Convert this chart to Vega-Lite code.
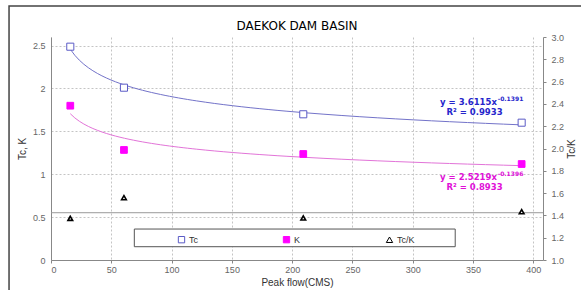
{
  "$schema": "https://vega.github.io/schema/vega-lite/v6.json",
  "width": 492,
  "height": 223,
  "autosize": {"type": "none"},
  "padding": {"left": 51, "top": 37, "right": 38, "bottom": 30},
  "background": "white",
  "title": {"text": "DAEKOK DAM BASIN", "frame": "group", "anchor": "middle", "offset": -28, "font": "DejaVu Sans", "fontSize": 12, "fontWeight": "normal", "color": "#000000"},
  "config": {
    "view": {"stroke": null},
    "axis": {
      "labelFont": "Liberation Sans", "labelFontSize": 9, "labelColor": "#666666",
      "titleFont": "Liberation Sans", "titleFontSize": 10, "titleFontWeight": "normal", "titleColor": "#333333",
      "domainColor": "#888888", "tickColor": "#888888",
      "gridColor": "#c4c4c4", "gridDash": [2, 2], "gridWidth": 1
    },
    "legend": {"orient": "none", "legendX": 126, "legendY": 198, "direction": "horizontal", "columns": 3, "columnPadding": 83, "padding": 0,
               "labelFont": "Liberation Sans", "labelFontSize": 9, "labelColor": "#333333", "labelOffset": 3, "symbolSize": 40, "symbolStrokeWidth": 1}
  },
  "datasets": {
    "obs": [
      {"flow": 16.0, "series": "Tc", "value": 2.487},
      {"flow": 60.5, "series": "Tc", "value": 2.009},
      {"flow": 209.2, "series": "Tc", "value": 1.699},
      {"flow": 390.3, "series": "Tc", "value": 1.601},
      {"flow": 16.0, "series": "K", "value": 1.799},
      {"flow": 60.5, "series": "K", "value": 1.283},
      {"flow": 209.2, "series": "K", "value": 1.236},
      {"flow": 390.3, "series": "K", "value": 1.119},
      {"flow": 16.0, "series": "Tc/K", "value": 1.374},
      {"flow": 60.5, "series": "Tc/K", "value": 1.559},
      {"flow": 209.2, "series": "Tc/K", "value": 1.377},
      {"flow": 390.3, "series": "Tc/K", "value": 1.433}
    ]
  },
  "data": {"name": "obs"},
  "layer": [
    {
      "encoding": {
        "x": {"field": "flow", "type": "quantitative", "scale": {"domain": [0, 408], "nice": false, "zero": false},
              "axis": {"title": "Peak flow(CMS)", "values": [0, 50, 100, 150, 200, 250, 300, 350, 400], "grid": true, "ticks": true, "tickSize": 3, "labelPadding": 2, "titlePadding": 3}},
        "y": {"field": "value", "type": "quantitative", "scale": {"domain": [0, 2.6], "nice": false, "zero": false},
              "axis": {"title": "Tc, K", "orient": "left", "values": [0, 0.5, 1, 1.5, 2, 2.5], "format": "~g", "grid": true, "ticks": false, "tickSize": 0, "labelPadding": 6, "titlePadding": 5}}
      },
      "layer": [
        {
          "transform": [{"aggregate": [{"op": "min", "field": "flow", "as": "flow"}, {"op": "min", "field": "value", "as": "value"}]}],
          "mark": {"type": "rect", "fill": null, "stroke": "#444444", "strokeWidth": 1.5, "clip": false},
          "encoding": {"x": {"datum": -34.8}, "x2": {"datum": 480}, "y": {"datum": 2.961}, "y2": {"datum": -0.6}}
        },
        {
          "transform": [{"aggregate": [{"op": "min", "field": "flow", "as": "flow"}, {"op": "min", "field": "value", "as": "value"}]}],
          "mark": {"type": "rect", "fill": "white", "stroke": "#555555", "strokeWidth": 1},
          "encoding": {"x": {"datum": 69.1}, "x2": {"datum": 335.2}, "y": {"datum": 0.361}, "y2": {"datum": 0.155}}
        },
        {
          "transform": [{"filter": "datum.series === 'Tc'"}, {"regression": "value", "on": "flow", "method": "pow", "extent": [16.0, 390.3]}],
          "mark": {"type": "line", "stroke": "#7373c9", "strokeWidth": 1}
        },
        {
          "transform": [{"filter": "datum.series === 'K'"}, {"regression": "value", "on": "flow", "method": "pow", "extent": [16.0, 390.3]}],
          "mark": {"type": "line", "stroke": "#e274d8", "strokeWidth": 1}
        },
        {
          "transform": [{"filter": "datum.series === 'Tc'"}],
          "mark": {"type": "point", "size": 50, "strokeWidth": 1, "opacity": 1},
          "encoding": {
            "shape": {"field": "series", "type": "nominal", "title": null, "scale": {"domain": ["Tc", "K", "Tc/K"], "range": ["square", "square", "triangle-up"]}},
            "stroke": {"field": "series", "type": "nominal", "title": null, "scale": {"domain": ["Tc", "K", "Tc/K"], "range": ["#5b5bc6", "#ff00ff", "#000000"]}},
            "fill": {"field": "series", "type": "nominal", "title": null, "scale": {"domain": ["Tc", "K", "Tc/K"], "range": ["#ffffff", "#ff00ff", "#ffffff"]}}
          }
        },
        {
          "transform": [{"filter": "datum.series === 'K'"}],
          "mark": {"type": "point", "size": 45, "strokeWidth": 1, "opacity": 1},
          "encoding": {
            "shape": {"field": "series", "type": "nominal", "title": null, "scale": {"domain": ["Tc", "K", "Tc/K"], "range": ["square", "square", "triangle-up"]}},
            "stroke": {"field": "series", "type": "nominal", "title": null, "scale": {"domain": ["Tc", "K", "Tc/K"], "range": ["#5b5bc6", "#ff00ff", "#000000"]}},
            "fill": {"field": "series", "type": "nominal", "title": null, "scale": {"domain": ["Tc", "K", "Tc/K"], "range": ["#ffffff", "#ff00ff", "#ffffff"]}}
          }
        },
        {
          "transform": [{"aggregate": [{"op": "min", "field": "flow", "as": "flow"}, {"op": "min", "field": "value", "as": "value"}]}],
          "mark": {"type": "text", "align": "right", "baseline": "middle", "font": "DejaVu Sans", "fontSize": 8.5, "fontWeight": "bold", "color": "#2626cc"},
          "encoding": {"x": {"datum": 369.8}, "y": {"datum": 1.842}, "text": {"value": "y = 3.6115x"}}
        },
        {
          "transform": [{"aggregate": [{"op": "min", "field": "flow", "as": "flow"}, {"op": "min", "field": "value", "as": "value"}]}],
          "mark": {"type": "text", "align": "left", "baseline": "middle", "font": "DejaVu Sans", "fontSize": 6, "fontWeight": "bold", "color": "#2626cc"},
          "encoding": {"x": {"datum": 370.4}, "y": {"datum": 1.877}, "text": {"value": "-0.1391"}}
        },
        {
          "transform": [{"aggregate": [{"op": "min", "field": "flow", "as": "flow"}, {"op": "min", "field": "value", "as": "value"}]}],
          "mark": {"type": "text", "align": "center", "baseline": "middle", "font": "DejaVu Sans", "fontSize": 8.5, "fontWeight": "bold", "color": "#2626cc"},
          "encoding": {"x": {"datum": 351.2}, "y": {"datum": 1.726}, "text": {"value": "R² = 0.9933"}}
        },
        {
          "transform": [{"aggregate": [{"op": "min", "field": "flow", "as": "flow"}, {"op": "min", "field": "value", "as": "value"}]}],
          "mark": {"type": "text", "align": "right", "baseline": "middle", "font": "DejaVu Sans", "fontSize": 8.5, "fontWeight": "bold", "color": "#e010d8"},
          "encoding": {"x": {"datum": 369.8}, "y": {"datum": 0.968}, "text": {"value": "y = 2.5219x"}}
        },
        {
          "transform": [{"aggregate": [{"op": "min", "field": "flow", "as": "flow"}, {"op": "min", "field": "value", "as": "value"}]}],
          "mark": {"type": "text", "align": "left", "baseline": "middle", "font": "DejaVu Sans", "fontSize": 6, "fontWeight": "bold", "color": "#e010d8"},
          "encoding": {"x": {"datum": 370.4}, "y": {"datum": 1.003}, "text": {"value": "-0.1396"}}
        },
        {
          "transform": [{"aggregate": [{"op": "min", "field": "flow", "as": "flow"}, {"op": "min", "field": "value", "as": "value"}]}],
          "mark": {"type": "text", "align": "center", "baseline": "middle", "font": "DejaVu Sans", "fontSize": 8.5, "fontWeight": "bold", "color": "#e010d8"},
          "encoding": {"x": {"datum": 351.2}, "y": {"datum": 0.851}, "text": {"value": "R² = 0.8933"}}
        }
      ]
    },
    {
      "encoding": {
        "x": {"field": "flow", "type": "quantitative", "scale": {"domain": [0, 408], "nice": false, "zero": false},
              "axis": {"title": "Peak flow(CMS)", "values": [0, 50, 100, 150, 200, 250, 300, 350, 400], "grid": true, "ticks": true, "tickSize": 3, "labelPadding": 2, "titlePadding": 3}},
        "y": {"field": "value", "type": "quantitative", "scale": {"domain": [1, 3], "nice": false, "zero": false},
              "axis": {"title": "Tc/K", "orient": "right", "values": [1, 1.2, 1.4, 1.6, 1.8, 2, 2.2, 2.4, 2.6, 2.8, 3], "format": ".1f", "grid": false, "ticks": true, "tickSize": 3, "labelPadding": 5, "titlePadding": 3, "titleAngle": 270, "titleBaseline": "top"}}
      },
      "layer": [
        {
          "transform": [{"aggregate": [{"op": "min", "field": "flow", "as": "flow"}, {"op": "min", "field": "value", "as": "value"}]}],
          "mark": {"type": "rule", "stroke": "#999999", "strokeWidth": 1},
          "encoding": {"y": {"datum": 1.424}, "x": null}
        },
        {
          "transform": [{"filter": "datum.series === 'Tc/K'"}],
          "mark": {"type": "point", "size": 22, "strokeWidth": 1.6, "opacity": 1},
          "encoding": {
            "shape": {"field": "series", "type": "nominal", "title": null, "scale": {"domain": ["Tc", "K", "Tc/K"], "range": ["square", "square", "triangle-up"]}},
            "stroke": {"field": "series", "type": "nominal", "title": null, "scale": {"domain": ["Tc", "K", "Tc/K"], "range": ["#5b5bc6", "#ff00ff", "#000000"]}},
            "fill": {"field": "series", "type": "nominal", "title": null, "scale": {"domain": ["Tc", "K", "Tc/K"], "range": ["#ffffff", "#ff00ff", "#ffffff"]}}
          }
        }
      ]
    }
  ],
  "resolve": {"scale": {"y": "independent"}}
}
